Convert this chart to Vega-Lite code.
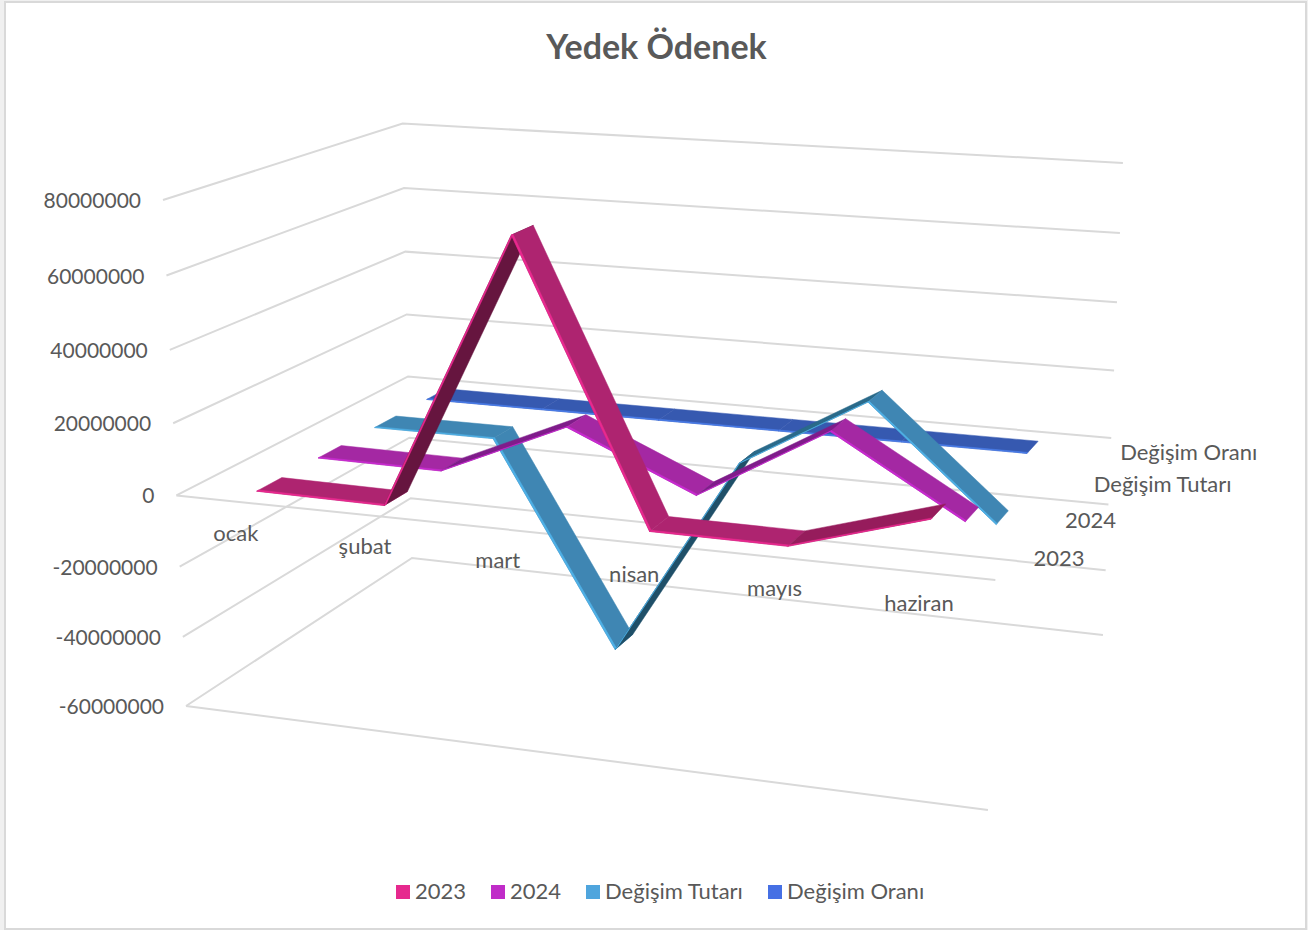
{
"$schema":"https://vega.github.io/schema/vega-lite/v6.json",
"autosize":{"type":"none"},
"padding":{"left":5,"top":2,"right":2,"bottom":1},
"width":1301,"height":927,
"background":"#f0f0f0",
"view":{"fill":"#ffffff","stroke":"#d9d9d9","strokeWidth":2},
"title":{"text":"Yedek Ödenek","font":"Lato","fontSize":34,"fontWeight":"bold","color":"#595959","anchor":"middle","frame":"group","offset":-64,"dx":1},
"config":{"text":{"font":"Lato","fontSize":22,"fill":"#595959"}},
"datasets":{
"veri":[
{"ay":"ocak","seri":"Değişim Oranı","deger":0},{"ay":"şubat","seri":"Değişim Oranı","deger":0},{"ay":"mart","seri":"Değişim Oranı","deger":0},{"ay":"nisan","seri":"Değişim Oranı","deger":0},{"ay":"mayıs","seri":"Değişim Oranı","deger":0},{"ay":"haziran","seri":"Değişim Oranı","deger":0},
{"ay":"ocak","seri":"Değişim Tutarı","deger":0},{"ay":"şubat","seri":"Değişim Tutarı","deger":0},{"ay":"mart","seri":"Değişim Tutarı","deger":-60000000},{"ay":"nisan","seri":"Değişim Tutarı","deger":-600000},{"ay":"mayıs","seri":"Değişim Tutarı","deger":20300000},{"ay":"haziran","seri":"Değişim Tutarı","deger":-11000000},
{"ay":"ocak","seri":"2024","deger":0},{"ay":"şubat","seri":"2024","deger":-300000},{"ay":"mart","seri":"2024","deger":15500000},{"ay":"nisan","seri":"2024","deger":-200000},{"ay":"mayıs","seri":"2024","deger":20800000},{"ay":"haziran","seri":"2024","deger":-200000},
{"ay":"ocak","seri":"2023","deger":0},{"ay":"şubat","seri":"2023","deger":-400000},{"ay":"mart","seri":"2023","deger":74700000},{"ay":"nisan","seri":"2023","deger":-100000},{"ay":"mayıs","seri":"2023","deger":-300000},{"ay":"haziran","seri":"2023","deger":10500000}
],
"izgara":[{"deger":-60000000},{"deger":-40000000},{"deger":-20000000},{"deger":0},{"deger":20000000},{"deger":40000000},{"deger":60000000},{"deger":80000000}]
},
"encoding":{
"x":{"field":"px","type":"quantitative","scale":{"domain":[5,1306],"nice":false,"zero":false},"axis":null},
"y":{"field":"py","type":"quantitative","scale":{"domain":[929,2],"nice":false,"zero":false},"axis":null}
},
"layer":[
{"data":{"name":"izgara"},
"transform":[
{"calculate":"[0,1,2]","as":"k"},{"flatten":["k"]},
{"calculate":"datum.k==2?1:0","as":"u"},{"calculate":"datum.k==0?0:1","as":"w"},
{"calculate":"(datum.deger+60000000)/140000000","as":"t"},
{"calculate":"1-0.0779*datum.u+0.1736*datum.w-0.05*datum.t","as":"D"},
{"calculate":"(186+725*datum.u+297.5*datum.w-31.15*datum.t)/datum.D-3*datum.u*datum.t","as":"px"},
{"calculate":"(706+40.9*datum.u-51.1*datum.w-516*datum.t)/datum.D-9*datum.u*datum.t","as":"py"}],
"mark":{"type":"line","stroke":"#d9d9d9","strokeWidth":2},
"encoding":{"detail":{"field":"deger"},"order":{"field":"k"}}},
{"data":{"name":"izgara"},
"transform":[
{"filter":"datum.deger==0||datum.deger==-60000000"},
{"calculate":"[0,1]","as":"k"},{"flatten":["k"]},
{"calculate":"datum.k","as":"u"},{"calculate":"0","as":"w"},
{"calculate":"(datum.deger+60000000)/140000000","as":"t"},
{"calculate":"1-0.0779*datum.u+0.1736*datum.w-0.05*datum.t","as":"D"},
{"calculate":"(186+725*datum.u+297.5*datum.w-31.15*datum.t)/datum.D-3*datum.u*datum.t","as":"px"},
{"calculate":"(706+40.9*datum.u-51.1*datum.w-516*datum.t)/datum.D-9*datum.u*datum.t","as":"py"}],
"mark":{"type":"line","stroke":"#d9d9d9","strokeWidth":2},
"encoding":{"detail":{"field":"deger"},"order":{"field":"k"}}},
{"data":{"name":"izgara"},
"transform":[
{"calculate":"0","as":"u"},{"calculate":"0","as":"w"},
{"calculate":"(datum.deger+60000000)/140000000","as":"t"},
{"calculate":"1-0.0779*datum.u+0.1736*datum.w-0.05*datum.t","as":"D"},
{"calculate":"(186+725*datum.u+297.5*datum.w-31.15*datum.t)/datum.D","as":"px"},
{"calculate":"(706+40.9*datum.u-51.1*datum.w-516*datum.t)/datum.D-9*datum.u*datum.t","as":"py"},
{"calculate":"''+datum.deger","as":"etiket"}],
"mark":{"type":"text","align":"right","baseline":"middle","dx":-22,"dy":2,"fontSize":21},
"encoding":{"text":{"field":"etiket"}}},
{"data":{"name":"veri"},
"transform":[
{"filter":"datum.seri==='2023'"},
{"calculate":"(indexof(['ocak','şubat','mart','nisan','mayıs','haziran'],datum.ay)+0.5)/6","as":"u"},{"calculate":"0","as":"w"},
{"calculate":"60/140","as":"t"},
{"calculate":"1-0.0779*datum.u+0.1736*datum.w-0.05*datum.t","as":"D"},
{"calculate":"(186+725*datum.u+297.5*datum.w-31.15*datum.t)/datum.D","as":"px"},
{"calculate":"(706+40.9*datum.u-51.1*datum.w-516*datum.t)/datum.D-9*datum.u*datum.t","as":"py"}],
"mark":{"type":"text","align":"center","baseline":"middle","dx":-4,"dy":32},
"encoding":{"text":{"field":"ay"}}},
{"data":{"name":"veri"},
"transform":[
{"filter":"datum.ay==='ocak'"},
{"calculate":"1","as":"u"},
{"calculate":"(indexof(['2023','2024','Değişim Tutarı','Değişim Oranı'],datum.seri)+0.5)/4","as":"w"},
{"calculate":"60/140","as":"t"},
{"calculate":"1-0.0779*datum.u+0.1736*datum.w-0.05*datum.t","as":"D"},
{"calculate":"(186+725*datum.u+297.5*datum.w-31.15*datum.t)/datum.D","as":"px"},
{"calculate":"(706+40.9*datum.u-51.1*datum.w-516*datum.t)/datum.D-9*datum.u*datum.t","as":"py"}],
"mark":{"type":"text","align":"left","baseline":"middle","dx":20,"dy":0},
"encoding":{"text":{"field":"seri"}}},
{"data":{"name":"veri"},
"transform":[
{"calculate":"indexof(['ocak','şubat','mart','nisan','mayıs','haziran'],datum.ay)","as":"m"},
{"calculate":"indexof(['2023','2024','Değişim Tutarı','Değişim Oranı'],datum.seri)","as":"s"},
{"window":[{"op":"lead","field":"deger","as":"sonraki"}],"groupby":["seri"],"sort":[{"field":"m","order":"ascending"}]},
{"filter":"datum.sonraki!=null"},
{"calculate":"datum.sonraki-datum.deger","as":"fark"},
{"calculate":"[0,1]","as":"p"},{"flatten":["p"]},
{"calculate":"[0,1,2,3,4]","as":"k"},{"flatten":["k"]},
{"calculate":"(datum.m+0.48+((datum.k==1||datum.k==2)?1:0))/6","as":"u"},
{"calculate":"0.075+0.25*datum.s+((datum.k==2||datum.k==3)?(datum.p==1?0.008:0.1):0)","as":"w"},
{"calculate":"((datum.k==1||datum.k==2)?datum.sonraki:datum.deger)","as":"v"},
{"calculate":"(datum.v+60000000)/140000000","as":"t"},
{"calculate":"1-0.0779*datum.u+0.1736*datum.w-0.05*datum.t","as":"D"},
{"calculate":"(186+725*datum.u+297.5*datum.w-31.15*datum.t)/datum.D-3*datum.u*datum.t","as":"px"},
{"calculate":"(706+40.9*datum.u-51.1*datum.w-516*datum.t)/datum.D-9*datum.u*datum.t","as":"py"},
{"calculate":"datum.seri+' '+datum.m+' '+datum.p","as":"parca"},
{"calculate":"datum.seri+'|'+(datum.p==1?'kenar':(datum.fark>30000000?'dik':(datum.fark>5000000?'yukari':'duz')))","as":"ton"}],
"mark":{"type":"line","strokeWidth":0.5,"strokeJoin":"round"},
"encoding":{
"detail":{"field":"parca"},
"order":{"field":"k"},
"fill":{"field":"ton","type":"nominal","legend":null,"scale":{"domain":["2023|duz","2023|yukari","2023|dik","2023|kenar","2024|duz","2024|yukari","2024|dik","2024|kenar","Değişim Tutarı|duz","Değişim Tutarı|yukari","Değişim Tutarı|dik","Değişim Tutarı|kenar","Değişim Oranı|duz","Değişim Oranı|kenar"],"range":["#ae2470","#961c5c","#66153f","#e9298f","#a428a3","#7f1c8a","#7f1c8a","#c82ad0","#3f86b3","#2a6a8a","#1f4f68","#4fb0e6","#3659b0","#4a7de8"]}},
"stroke":{"field":"ton","type":"nominal","legend":null,"scale":{"domain":["2023|duz","2023|yukari","2023|dik","2023|kenar","2024|duz","2024|yukari","2024|dik","2024|kenar","Değişim Tutarı|duz","Değişim Tutarı|yukari","Değişim Tutarı|dik","Değişim Tutarı|kenar","Değişim Oranı|duz","Değişim Oranı|kenar"],"range":["#ae2470","#961c5c","#66153f","#e9298f","#a428a3","#7f1c8a","#7f1c8a","#c82ad0","#3f86b3","#2a6a8a","#1f4f68","#4fb0e6","#3659b0","#4a7de8"]}}
}},
{"data":{"name":"veri"},
"transform":[
{"filter":"datum.ay==='ocak'"},
{"calculate":"0.5","as":"u"},{"calculate":"0.5","as":"w"},{"calculate":"0.5","as":"t"},
{"calculate":"1-0.0779*datum.u+0.1736*datum.w-0.05*datum.t","as":"D"},
{"calculate":"(186+725*datum.u+297.5*datum.w-31.15*datum.t)/datum.D","as":"px"},
{"calculate":"(706+40.9*datum.u-51.1*datum.w-516*datum.t)/datum.D-9*datum.u*datum.t","as":"py"}],
"mark":{"type":"square","opacity":0},
"encoding":{"color":{"field":"seri","type":"nominal",
"scale":{"domain":["2023","2024","Değişim Tutarı","Değişim Oranı"],"range":["#e6298e","#c02cc8","#4fa5dd","#4670e4"]},
"legend":{"title":null,"orient":"none","direction":"horizontal","columns":4,"legendX":387,"legendY":879,"symbolType":"square","symbolSize":196,"symbolOpacity":1,"symbolStrokeWidth":0,"labelFont":"Lato","labelFontSize":22,"labelColor":"#595959","labelOffset":1,"columnPadding":20,"padding":0}}}}
]
}
